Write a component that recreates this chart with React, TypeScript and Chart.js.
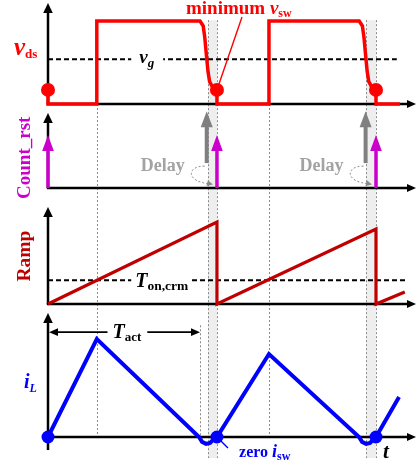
import { useEffect, useRef } from "react";
import { Chart, registerables } from "chart.js";

Chart.register(...registerables);

const WIDTH = 418;
const HEIGHT = 463;
const SERIF = '"Liberation Serif", "Times New Roman", Times, serif';

// ---- timeline (arbitrary time units) ----
const T_PEAK = [3.05, 13.81]; // end of on-time: peak current, v_ds rising edge
const T_ACT_END = 9.5; // end of the measured active interval
const DELAY_WINDOWS = [
  [10.0, 10.56],
  [19.9, 20.5],
];
const T_RESET = [0, 10.56, 20.5]; // Count_rst pulses (valley turn-on)
const T_DETECT = [9.92, 19.85]; // valley detection instants

// ---- v_ds (normalised to the off-state plateau) ----
const vdsT = [
  0, 0, 3.05, 3.05, 9.5, 9.7, 9.8, 9.9, 10.0, 10.1, 10.3, 10.56, 10.56, 13.81, 13.81,
  19.45, 19.65, 19.75, 19.85, 19.95, 20.05, 20.25, 20.5, 20.5, 22.0,
];
const vdsV = [
  0.17, 0, 0, 1, 1, 0.94, 0.8, 0.59, 0.39, 0.27, 0.2, 0.17, 0, 0, 1,
  1, 0.94, 0.8, 0.59, 0.39, 0.27, 0.2, 0.17, 0, 0,
];
const VDS_VALLEY = 0.17;
const VG_LEVEL = 0.54;
const VG_END = 21.8;

// ---- Count_rst ----
const RESET_HEIGHT = 1;
const DETECT_BASE = 0.47;
const DETECT_TOP = 1.45;

// ---- Ramp ----
const rampT = [0, 10.56, 10.56, 20.5, 20.5, 22.3];
const rampV = [0, 1, 0, 0.915, 0, 0.146];
const TON_LEVEL = 0.29;
const TON_END = 22.45;

// ---- inductor current ----
const iLT = [0, 3.05, 9.44, 9.63, 9.88, 10.13, 10.31, 10.56, 13.81, 19.44, 19.63, 19.88, 20.13, 20.31, 20.5, 21.94];
const iLV = [0, 1, 0, -0.05, -0.07, -0.06, -0.03, 0, 0.847, 0, -0.05, -0.07, -0.06, -0.03, 0, 0.408];
const TACT_LEVEL = 1.07;

// ---- layout of the four stacked panels (pixel baseline, pixels per unit) ----
const PANELS: Record<string, { base: number; unit: number; tip: number; foot: number }> = {
  yV: { base: 104, unit: 83, tip: 1.217, foot: 0 },
  yC: { base: 188, unit: 53, tip: 1.415, foot: 0 },
  yR: { base: 304, unit: 82, tip: 1.183, foot: 0 },
  yI: { base: 437, unit: 98, tip: 1.265, foot: -0.133 },
};
const X_ORIGIN_PX = 48;
const X_UNIT_PX = 16;
const X_AXIS_END = 23.0;
const BAND_TOP = 1.01; // in yV units
const BAND_BOTTOM = -0.214; // in yI units

const RED = "#ff0000";
const DARK_RED = "#c00000";
const MAGENTA = "#cc00cc";
const BLUE = "#0000ff";
const GREY = "#808080";

type Run = { s: string; font: string; dy?: number };

function runsWidth(ctx: CanvasRenderingContext2D, runs: Run[]) {
  let w = 0;
  for (const r of runs) {
    ctx.font = r.font;
    w += ctx.measureText(r.s).width;
  }
  return w;
}

function drawRuns(ctx: CanvasRenderingContext2D, runs: Run[], x: number, y: number, color: string) {
  ctx.fillStyle = color;
  ctx.textAlign = "left";
  ctx.textBaseline = "alphabetic";
  let cx = x;
  for (const r of runs) {
    ctx.font = r.font;
    ctx.fillText(r.s, cx, y + (r.dy || 0));
    cx += ctx.measureText(r.s).width;
  }
  return cx;
}

function arrowHead(
  ctx: CanvasRenderingContext2D,
  x: number,
  y: number,
  angle: number,
  len: number,
  halfW: number,
  color: string
) {
  ctx.save();
  ctx.translate(x, y);
  ctx.rotate(angle);
  ctx.beginPath();
  ctx.moveTo(0, 0);
  ctx.lineTo(-len, -halfW);
  ctx.lineTo(-len, halfW);
  ctx.closePath();
  ctx.fillStyle = color;
  ctx.fill();
  ctx.restore();
}

function upArrow(
  ctx: CanvasRenderingContext2D,
  x: number,
  yBase: number,
  yTip: number,
  color: string,
  width: number,
  len: number,
  halfW: number
) {
  ctx.save();
  ctx.strokeStyle = color;
  ctx.lineWidth = width;
  ctx.setLineDash([]);
  ctx.beginPath();
  ctx.moveTo(x, yBase);
  ctx.lineTo(x, yTip + len - 1);
  ctx.stroke();
  ctx.restore();
  arrowHead(ctx, x, yTip, -Math.PI / 2, len, halfW, color);
}

const diagramPlugin = {
  id: "switchingDiagram",
  beforeDatasetsDraw(chart: any) {
    const ctx: CanvasRenderingContext2D = chart.ctx;
    const X = (t: number) => chart.scales.x.getPixelForValue(t);
    const Y = (id: string, v: number) => chart.scales[id].getPixelForValue(v);
    const crisp = (p: number) => Math.round(p) + 0.5;

    ctx.save();
    // delay windows
    const bTop = Y("yV", BAND_TOP);
    const bBot = Y("yI", BAND_BOTTOM);
    ctx.fillStyle = "#eeeeee";
    for (const [a, b] of DELAY_WINDOWS) {
      ctx.fillRect(X(a), bTop, X(b) - X(a), bBot - bTop);
    }

    // dotted timing guides
    ctx.strokeStyle = "#8a8a8a";
    ctx.lineWidth = 1;
    ctx.setLineDash([2, 2]);
    const vline = (x: number, y0: number, y1: number) => {
      ctx.beginPath();
      ctx.moveTo(crisp(x), y0);
      ctx.lineTo(crisp(x), y1);
      ctx.stroke();
    };
    for (const [a, b] of DELAY_WINDOWS) {
      vline(X(a), bTop, bBot);
      vline(X(b), bTop, bBot);
    }
    for (const t of T_PEAK) vline(X(t), Y("yV", 0), Y("yI", 0));
    vline(X(T_ACT_END), Y("yI", 1.14), Y("yI", 0));
    ctx.setLineDash([]);

    // axes with arrowheads
    ctx.strokeStyle = "#000";
    ctx.lineWidth = 2.5;
    const x0 = X(0);
    const xEnd = X(X_AXIS_END);
    for (const id of Object.keys(PANELS)) {
      const p = PANELS[id];
      const yb = Y(id, 0);
      const yTip = Y(id, p.tip);
      ctx.beginPath();
      ctx.moveTo(x0, Y(id, p.foot));
      ctx.lineTo(x0, yTip + 9);
      ctx.stroke();
      arrowHead(ctx, x0, yTip, -Math.PI / 2, 10, 4.8, "#000");
      ctx.beginPath();
      ctx.moveTo(x0 - 1.2, yb);
      ctx.lineTo(xEnd - 8, yb);
      ctx.stroke();
      arrowHead(ctx, xEnd, yb, 0, 9, 4, "#000");
    }
    ctx.restore();
  },
  afterDatasetsDraw(chart: any) {
    const ctx: CanvasRenderingContext2D = chart.ctx;
    const X = (t: number) => chart.scales.x.getPixelForValue(t);
    const Y = (id: string, v: number) => chart.scales[id].getPixelForValue(v);
    ctx.save();

    // ---- Count_rst and detection arrows ----
    for (const t of T_DETECT) {
      upArrow(ctx, X(t), Y("yC", DETECT_BASE), Y("yC", DETECT_TOP), GREY, 4, 16, 6);
    }
    for (const t of T_RESET) {
      upArrow(ctx, X(t), Y("yC", 0), Y("yC", RESET_HEIGHT), MAGENTA, 3.5, 16, 5.8);
    }

    // "Delay" labels with curved dotted arrows
    T_DETECT.forEach((t, i) => {
      const xg = X(t);
      const xm = X(T_RESET[i + 1]);
      const yb = Y("yC", DETECT_BASE);
      ctx.save();
      ctx.strokeStyle = "#8a8a8a";
      ctx.lineWidth = 1;
      ctx.setLineDash([2, 2]);
      ctx.beginPath();
      ctx.moveTo(xg - 2, yb + 3);
      ctx.bezierCurveTo(xg - 21, yb + 3, xg - 20, yb + 19, xm - 8, yb + 20.5);
      ctx.stroke();
      ctx.restore();
      arrowHead(ctx, xm - 4, yb + 21.5, 0.25, 6, 3, "#8a8a8a");
      ctx.font = `bold 18px ${SERIF}`;
      ctx.fillStyle = "#a3a3a3";
      ctx.textAlign = "right";
      ctx.textBaseline = "alphabetic";
      ctx.fillText("Delay", xg - 22, yb + 8);
    });

    // ---- v_g label on the dashed level ----
    {
      const runs: Run[] = [
        { s: "v", font: `italic bold 19px ${SERIF}` },
        { s: "g", font: `italic bold 13px ${SERIF}`, dy: 4 },
      ];
      const lx = X(5.7);
      const ly = Y("yV", VG_LEVEL) + 4;
      const w = runsWidth(ctx, runs);
      ctx.fillStyle = "#fff";
      ctx.fillRect(lx - 8, ly - 16, w + 17, 26);
      drawRuns(ctx, runs, lx, ly, "#000");
    }

    // ---- T_on,crm label ----
    {
      const runs: Run[] = [
        { s: "T", font: `italic bold 20px ${SERIF}` },
        { s: "on,crm", font: `bold 13.5px ${SERIF}`, dy: 3 },
      ];
      const lx = X(5.45);
      const ly = Y("yR", TON_LEVEL) + 7;
      const w = runsWidth(ctx, runs);
      ctx.fillStyle = "#fff";
      ctx.fillRect(lx - 4, ly - 18, w + 6, 26);
      drawRuns(ctx, runs, lx, ly, "#000");
    }

    // ---- T_act double arrow ----
    {
      const y = Y("yI", TACT_LEVEL);
      const xa = X(0) + 1;
      const xb = X(T_ACT_END);
      ctx.strokeStyle = "#000";
      ctx.lineWidth = 1.8;
      ctx.beginPath();
      ctx.moveTo(xa + 6, y);
      ctx.lineTo(xb - 6, y);
      ctx.stroke();
      arrowHead(ctx, xa, y, Math.PI, 9, 3.8, "#000");
      arrowHead(ctx, xb, y, 0, 9, 3.8, "#000");
      const runs: Run[] = [
        { s: "T", font: `italic bold 20px ${SERIF}` },
        { s: "act", font: `bold 13px ${SERIF}`, dy: 3 },
      ];
      const lx = X(4.03);
      const w = runsWidth(ctx, runs);
      ctx.fillStyle = "#fff";
      ctx.fillRect(lx - 5, y - 8, w + 11, 16);
      drawRuns(ctx, runs, lx, y + 6, "#000");
    }

    // ---- panel titles ----
    drawRuns(
      ctx,
      [
        { s: "v", font: `italic bold 25px ${SERIF}` },
        { s: "ds", font: `bold 13px ${SERIF}`, dy: 3 },
      ],
      14,
      Y("yV", VG_LEVEL) - 4,
      RED
    );
    const rotated = (text: string, font: string, color: string, x: number, y: number) => {
      ctx.save();
      ctx.translate(x, y);
      ctx.rotate(-Math.PI / 2);
      ctx.font = font;
      ctx.fillStyle = color;
      ctx.textAlign = "center";
      ctx.textBaseline = "alphabetic";
      ctx.fillText(text, 0, 0);
      ctx.restore();
    };
    rotated("Count_rst", `bold 19px ${SERIF}`, MAGENTA, 30, Y("yC", 0.57));
    rotated("Ramp", `bold 19.5px ${SERIF}`, DARK_RED, 30, Y("yR", 0.585));
    drawRuns(
      ctx,
      [
        { s: "i", font: `italic bold 20px ${SERIF}` },
        { s: "L", font: `italic bold 12px ${SERIF}`, dy: 4 },
      ],
      24,
      Y("yI", 0.5),
      BLUE
    );

    // ---- minimum v_sw annotation ----
    {
      const lx = X(8.625);
      const ly = 14;
      drawRuns(
        ctx,
        [
          { s: "minimum ", font: `bold 19px ${SERIF}` },
          { s: "v", font: `italic bold 19px ${SERIF}` },
          { s: "sw", font: `bold 12px ${SERIF}`, dy: 3 },
        ],
        lx,
        ly,
        RED
      );
      const dx = X(T_RESET[1]);
      const dy = Y("yV", VDS_VALLEY);
      const sx = lx + 56;
      const sy = ly + 3;
      const len = Math.hypot(dx - sx, dy - sy);
      ctx.strokeStyle = RED;
      ctx.lineWidth = 1.4;
      ctx.beginPath();
      ctx.moveTo(sx, sy);
      ctx.lineTo(dx - ((dx - sx) / len) * 6, dy - ((dy - sy) / len) * 6);
      ctx.stroke();
    }

    // ---- zero i_sw annotation ----
    {
      const dx = X(T_RESET[1]);
      const dy = Y("yI", 0);
      ctx.strokeStyle = BLUE;
      ctx.lineWidth = 1.4;
      ctx.beginPath();
      ctx.moveTo(dx + 4, dy + 4);
      ctx.lineTo(dx + 11, dy + 11);
      ctx.stroke();
      drawRuns(
        ctx,
        [
          { s: "zero ", font: `bold 16px ${SERIF}` },
          { s: "i", font: `italic bold 18px ${SERIF}` },
          { s: "sw", font: `bold 12px ${SERIF}`, dy: 3 },
        ],
        X(11.94),
        dy + 20,
        BLUE
      );
    }

    // time axis label
    drawRuns(ctx, [{ s: "t", font: `italic bold 21px ${SERIF}` }], X(20.94), Y("yI", 0) + 21, "#000");

    ctx.restore();
  },
};

const toPoints = (ts: number[], vs: number[]) => ts.map((t, i) => ({ x: t, y: vs[i] }));

function scaleFor(id: string) {
  const p = PANELS[id];
  return {
    type: "linear" as const,
    display: false,
    min: -(HEIGHT - p.base) / p.unit,
    max: p.base / p.unit,
  };
}

export default function App() {
  const ref = useRef<HTMLCanvasElement>(null);

  useEffect(() => {
    if (!ref.current) return;
    const line = { pointRadius: 0, pointHoverRadius: 0, tension: 0, fill: false, borderJoinStyle: "miter" as const };
    const chart = new Chart(ref.current, {
      type: "line",
      data: {
        datasets: [
          {
            ...line,
            data: T_RESET.map((t) => ({ x: t, y: VDS_VALLEY })),
            yAxisID: "yV",
            showLine: false,
            pointRadius: 7,
            pointBackgroundColor: RED,
            pointBorderWidth: 0,
            order: 0,
          },
          {
            ...line,
            data: T_RESET.map((t) => ({ x: t, y: 0 })),
            yAxisID: "yI",
            showLine: false,
            pointRadius: 6.5,
            pointBackgroundColor: BLUE,
            pointBorderWidth: 0,
            order: 0,
          },
          {
            ...line,
            data: toPoints(vdsT, vdsV),
            yAxisID: "yV",
            borderColor: RED,
            borderWidth: 3.5,
            order: 1,
          },
          {
            ...line,
            data: toPoints(rampT, rampV),
            yAxisID: "yR",
            borderColor: DARK_RED,
            borderWidth: 3.2,
            order: 1,
          },
          {
            ...line,
            data: toPoints(iLT, iLV),
            yAxisID: "yI",
            borderColor: BLUE,
            borderWidth: 4,
            order: 1,
          },
          {
            ...line,
            data: [
              { x: 0, y: VG_LEVEL },
              { x: VG_END, y: VG_LEVEL },
            ],
            yAxisID: "yV",
            borderColor: "#000",
            borderWidth: 2,
            borderDash: [5, 3],
            order: 2,
          },
          {
            ...line,
            data: [
              { x: 0, y: TON_LEVEL },
              { x: TON_END, y: TON_LEVEL },
            ],
            yAxisID: "yR",
            borderColor: "#000",
            borderWidth: 2,
            borderDash: [5, 3],
            order: 2,
          },
        ],
      },
      options: {
        responsive: false,
        devicePixelRatio: 1,
        animation: false,
        events: [],
        layout: { padding: 0, autoPadding: false },
        plugins: { legend: { display: false }, tooltip: { enabled: false } },
        scales: {
          x: {
            type: "linear",
            display: false,
            min: -X_ORIGIN_PX / X_UNIT_PX,
            max: (WIDTH - X_ORIGIN_PX) / X_UNIT_PX,
          },
          yV: scaleFor("yV"),
          yC: scaleFor("yC"),
          yR: scaleFor("yR"),
          yI: scaleFor("yI"),
        },
      },
      plugins: [diagramPlugin],
    });
    return () => chart.destroy();
  }, []);

  return (
    <div style={{ position: "fixed", left: 0, top: 0, width: WIDTH, height: HEIGHT, background: "#fff" }}>
      <canvas ref={ref} width={WIDTH} height={HEIGHT} style={{ display: "block", width: WIDTH, height: HEIGHT }} />
    </div>
  );
}
